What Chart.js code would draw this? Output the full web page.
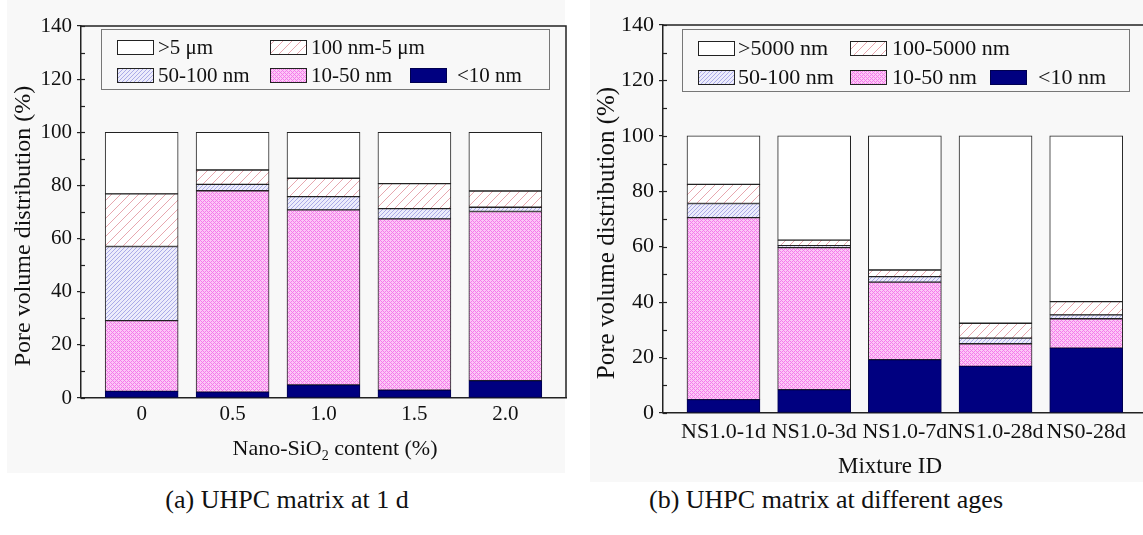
<!DOCTYPE html>
<html>
<head>
<meta charset="utf-8">
<script src="https://cdn.jsdelivr.net/npm/chart.js@4.4.1/dist/chart.umd.min.js"></script>
<style>
    body { margin: 0; width: 1143px; height: 535px; overflow: hidden; background: #fff; position: relative; font-family: 'Liberation Serif', serif; }
    .panel { position: absolute; background: #f8f8f8; }
    #p1 { left: 7px; top: 0; width: 558px; height: 473px; }
    #p2 { left: 590px; top: 0; width: 553px; height: 482px; }
    canvas { position: absolute; top: 0; }
    #chartA { left: 0; }
    #chartB { left: 585px; }
    .cap { position: absolute; top: 485px; font-size: 26px; transform: translateX(-50%); white-space: nowrap; color: #111; }
</style>
</head>
<body>
<div class="panel" id="p1"></div>
<div class="panel" id="p2"></div>
<canvas id="chartA" width="575" height="485"></canvas>
<canvas id="chartB" width="600" height="485"></canvas>
<div class="cap" style="left:287px">(a) UHPC matrix at 1 d</div>
<div class="cap" style="left:826px">(b) UHPC matrix at different ages</div>
<script>
// (a) nano-SiO2 content, 1 d
const nsContent = ['0', '0.5', '1.0', '1.5', '2.0'];
const aLt10 = [2.5, 2.2, 4.9, 2.9, 6.5];
const a10to50 = [26.6, 75.8, 65.9, 64.5, 63.7];
const a50to100 = [27.9, 2.4, 5.0, 3.9, 1.6];
const a100to5um = [19.8, 5.4, 6.9, 9.4, 6.1];
const aGt5um = [23.2, 14.2, 17.3, 19.3, 22.1];

// (b) different ages
const mixtureIds = ['NS1.0-1d', 'NS1.0-3d', 'NS1.0-7d', 'NS1.0-28d', 'NS0-28d'];
const bLt10 = [4.8, 8.4, 19.2, 16.8, 23.4];
const b10to50 = [65.7, 51.3, 28.0, 8.2, 10.6];
const b50to100 = [5.1, 0.7, 2.0, 2.0, 1.4];
const b100to5000 = [6.9, 2.0, 2.4, 5.4, 4.8];
const bGt5000 = [17.5, 37.6, 48.4, 67.6, 59.8];

const yTicks = [0, 20, 40, 60, 80, 100, 120, 140];
const FONT = "'Liberation Serif', serif";

// fill patterns
const makePattern = (size, draw) => {
    const c = document.createElement('canvas');
    c.width = c.height = size;
    draw(c.getContext('2d'), size);
    return c.getContext('2d').createPattern(c, 'repeat');
};
const hatch = (bg, fg, width) => (g, s) => {
    g.fillStyle = bg;
    g.fillRect(0, 0, s, s);
    g.strokeStyle = fg;
    g.lineWidth = width;
    [[0, s, s, 0], [-s, s, s, -s], [0, 2 * s, 2 * s, 0]].forEach(l => {
        g.beginPath(); g.moveTo(l[0], l[1]); g.lineTo(l[2], l[3]); g.stroke();
    });
};
const pinkHatch = makePattern(9, hatch('#ffffff', 'rgba(225,145,155,0.8)', 1));
const blueHatch = makePattern(4, hatch('#ececfb', 'rgba(150,150,225,0.75)', 1));
const crossPink = makePattern(4, (g, s) => {
    g.fillStyle = '#fcc8f6';
    g.fillRect(0, 0, s, s);
    g.fillStyle = '#f47ceb';
    g.fillRect(0, 0, 1, 1); g.fillRect(2, 2, 1, 1);
    g.fillRect(1, 1, 1, 1); g.fillRect(3, 3, 1, 1);
    g.fillRect(3, 1, 1, 1); g.fillRect(1, 3, 1, 1);
});

const styles = [
    { bg: '#000080', border: '#000050' },
    { bg: crossPink, border: '#222' },
    { bg: blueHatch, border: '#222' },
    { bg: pinkHatch, border: '#222' },
    { bg: '#ffffff', border: '#222' }
];

// box legend drawn inside the plot
const boxLegend = {
    id: 'boxLegend',
    afterDraw(chart, args, opts) {
        const ctx = chart.ctx;
        ctx.save();
        ctx.strokeStyle = '#777';
        ctx.lineWidth = 1;
        ctx.strokeRect(opts.box[0] + 0.5, opts.box[1] + 0.5, opts.box[2], opts.box[3]);
        ctx.font = opts.fontSize + 'px ' + FONT;
        ctx.textBaseline = 'middle';
        opts.items.forEach(it => {
            const ds = chart.data.datasets[it.ds];
            ctx.fillStyle = ds.backgroundColor;
            ctx.fillRect(it.x, it.y - 7, 36, 14);
            ctx.strokeStyle = ds.borderColor;
            ctx.strokeRect(it.x + 0.5, it.y - 6.5, 36, 14);
            ctx.fillStyle = '#111';
            ctx.fillText(ds.label, it.tx, it.y + 1);
        });
        ctx.restore();
    }
};

// frame, inner ticks, axis titles
const frame = {
    id: 'frame',
    afterDraw(chart, args, opts) {
        const ctx = chart.ctx;
        const a = chart.chartArea;
        const y = chart.scales.y;
        ctx.save();
        ctx.strokeStyle = '#222';
        ctx.lineWidth = 1.5;
        ctx.beginPath();
        ctx.moveTo(a.left, a.top);
        ctx.lineTo(a.right, a.top);
        ctx.lineTo(a.right, a.bottom);
        ctx.stroke();
        ctx.lineWidth = 1.2;
        for (let v = 0; v <= 140; v += 10) {
            const py = Math.round(y.getPixelForValue(v)) + 0.5;
            ctx.beginPath();
            ctx.moveTo(a.left, py);
            ctx.lineTo(a.left + 4, py);
            ctx.stroke();
        }
        ctx.fillStyle = '#111';
        ctx.font = opts.yFontSize + 'px ' + FONT;
        ctx.textAlign = 'center';
        ctx.textBaseline = 'middle';
        ctx.save();
        ctx.translate(opts.yTitle[0], opts.yTitle[1]);
        ctx.rotate(-Math.PI / 2);
        ctx.fillText('Pore volume distribution (%)', 0, 0);
        ctx.restore();
        const parts = opts.xTitle;
        const main = opts.fontSize + 'px ' + FONT;
        const sub = Math.round(opts.fontSize * 0.65) + 'px ' + FONT;
        let total = 0;
        parts.forEach(p => {
            ctx.font = p.sub ? sub : main;
            p.w = ctx.measureText(p.t).width;
            total += p.w;
        });
        let x = opts.xPos[0] - total / 2;
        ctx.textAlign = 'left';
        parts.forEach(p => {
            ctx.font = p.sub ? sub : main;
            ctx.fillText(p.t, x, opts.xPos[1] + (p.sub ? 7 : 0));
            x += p.w;
        });
        ctx.restore();
    }
};

const makeChart = (id, cats, series, labels, cfg) => {
    const ctx = document.getElementById(id).getContext('2d');
    return new Chart(ctx, {
        type: 'bar',
        data: {
            datasets: series.map((vals, i) => ({
                label: labels[i],
                data: vals.map((v, k) => ({ x: k, y: v })),
                backgroundColor: styles[i].bg,
                borderColor: styles[i].border,
                borderWidth: 1,
                borderSkipped: false,
                barThickness: 73
            }))
        },
        options: {
            responsive: false,
            animation: false,
            layout: { padding: { left: 0, top: cfg.top, right: cfg.padRight, bottom: 0 } },
            plugins: {
                legend: { display: false },
                tooltip: { enabled: false },
                boxLegend: cfg.legend,
                frame: cfg.frame
            },
            scales: {
                x: {
                    type: 'linear',
                    stacked: true,
                    offset: false,
                    min: -0.667,
                    max: 4.667,
                    afterBuildTicks: s => { s.ticks = cats.map((c, i) => ({ value: i })); },
                    afterFit: s => { s.height = cfg.xHeight; },
                    grid: { display: false, offset: false },
                    border: { display: true, color: '#222', width: 1.5 },
                    ticks: {
                        autoSkip: false,
                        maxRotation: 0,
                        padding: cfg.xPad,
                        color: '#111',
                        font: { family: FONT, size: cfg.xFont },
                        callback: v => cats[v]
                    }
                },
                y: {
                    stacked: true,
                    min: 0,
                    max: 140,
                    afterBuildTicks: s => { s.ticks = yTicks.map(v => ({ value: v })); },
                    afterFit: s => { s.width = cfg.yWidth; },
                    grid: { drawOnChartArea: false, tickLength: 4, color: '#222', lineWidth: 1.2 },
                    border: { display: true, color: '#222', width: 1.5 },
                    ticks: {
                        padding: 5,
                        color: '#111',
                        font: { family: FONT, size: cfg.yFont }
                    }
                }
            }
        },
        plugins: [boxLegend, frame]
    });
};

makeChart('chartA', nsContent, [aLt10, a10to50, a50to100, a100to5um, aGt5um],
    ['<10 nm', '10-50 nm', '50-100 nm', '100 nm-5 \u03bcm', '>5 \u03bcm'], {
        top: 26, padRight: 9, xHeight: 87, yWidth: 81, xPad: -4, xFont: 21, yFont: 21,
        legend: {
            box: [101, 29, 448, 60], fontSize: 21,
            items: [
                { ds: 4, x: 117, y: 47, tx: 158 },
                { ds: 3, x: 270, y: 47, tx: 311 },
                { ds: 2, x: 117, y: 75, tx: 158 },
                { ds: 1, x: 270, y: 75, tx: 311 },
                { ds: 0, x: 410, y: 75, tx: 457 }
            ]
        },
        frame: {
            fontSize: 22, yFontSize: 24, yTitle: [24, 226],
            xPos: [335, 449],
            xTitle: [{ t: 'Nano-SiO' }, { t: '2', sub: true }, { t: ' content (%)' }]
        }
    });

makeChart('chartB', mixtureIds, [bLt10, b10to50, b50to100, b100to5000, bGt5000],
    ['<10 nm', '10-50 nm', '50-100 nm', '100-5000 nm', '>5000 nm'], {
        top: 25, padRight: 38.3, xHeight: 72, yWidth: 78, xPad: -2, xFont: 22, yFont: 22,
        legend: {
            box: [97, 29, 447, 62], fontSize: 22,
            items: [
                { ds: 4, x: 113, y: 48, tx: 153 },
                { ds: 3, x: 265, y: 48, tx: 307 },
                { ds: 2, x: 113, y: 77, tx: 153 },
                { ds: 1, x: 265, y: 77, tx: 307 },
                { ds: 0, x: 405, y: 77, tx: 453 }
            ]
        },
        frame: {
            fontSize: 23, yFontSize: 25, yTitle: [22, 233],
            xPos: [305, 467],
            xTitle: [{ t: 'Mixture ID' }]
        }
    });
</script>
</body>
</html>
